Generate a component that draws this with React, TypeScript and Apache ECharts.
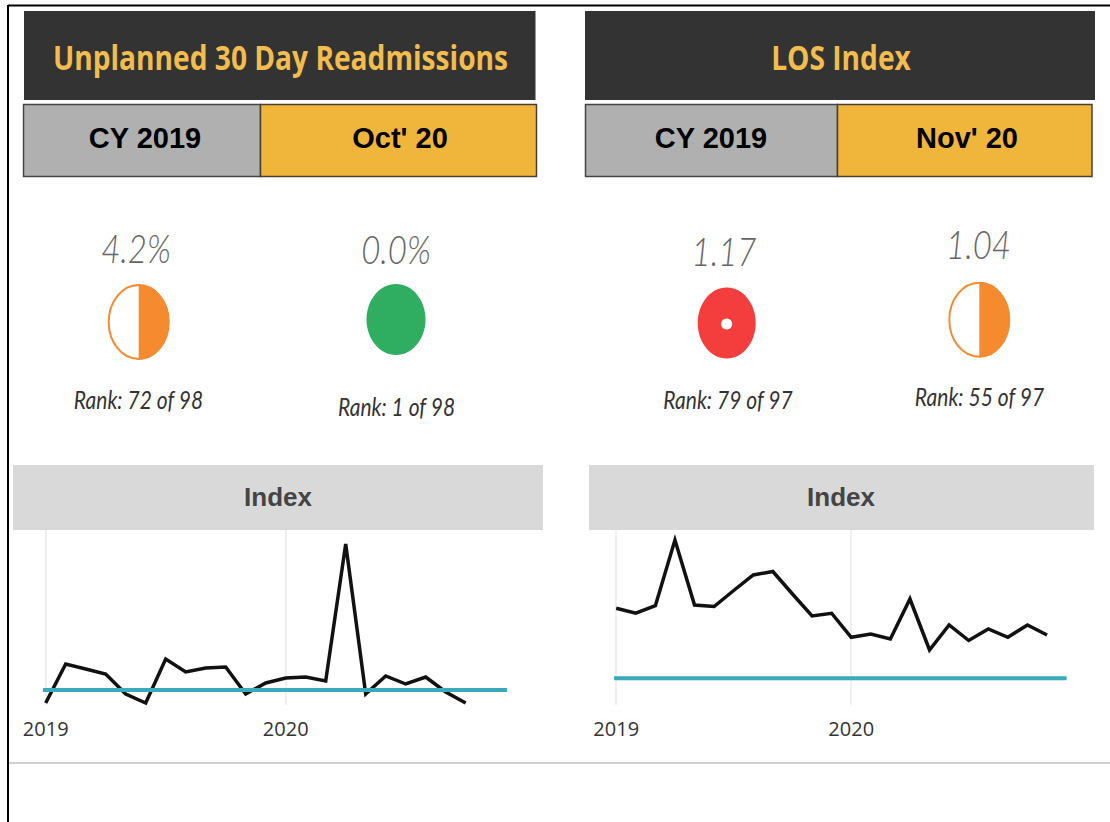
import React, { useEffect, useRef } from "react";
import * as echarts from "echarts";

const titles = ["Unplanned 30 Day Readmissions", "LOS Index"];
const periodsLeft = ["CY 2019", "Oct' 20"];
const periodsRight = ["CY 2019", "Nov' 20"];
const kpiValues = ["4.2%", "0.0%", "1.17", "1.04"];
const kpiRanks = ["Rank: 72 of 98", "Rank: 1 of 98", "Rank: 79 of 97", "Rank: 55 of 97"];
const panelLabel = "Index";
const yearLabels: Record<number, string> = { 0: "2019", 12: "2020" };

const readmissions = [0.02, 0.41, 0.36, 0.31, 0.11, 0.02, 0.46, 0.33, 0.37, 0.38, 0.11, 0.22, 0.27, 0.28, 0.24, 1.61, 0.11, 0.29, 0.21, 0.28, 0.13, 0.02];
const readmissionsTarget = 0.15;
const losIndex = [1.28, 1.26, 1.29, 1.553, 1.293, 1.287, 1.351, 1.413, 1.427, 1.337, 1.249, 1.26, 1.164, 1.177, 1.157, 1.317, 1.113, 1.213, 1.151, 1.197, 1.164, 1.213, 1.173];
const losTarget = 1.0;

const GOLD = "#F0B63C";
const ORANGE = "#F58A2E";

const centered = (text: string, x: number, y: number, font: any, extra: any = {}) => ({
  type: "text", x, y, silent: true, ...extra,
  style: { text, align: "center", verticalAlign: "middle", ...font },
});

const halfCircle = (x: number, y: number, rx: number, ry: number) => ({
  type: "group",
  children: [
    { type: "ellipse", shape: { cx: x, cy: y, rx, ry }, style: { fill: "#fff", stroke: ORANGE, lineWidth: 2 } },
    { type: "sector", x, y, scaleX: 1, scaleY: ry / rx, shape: { cx: 0, cy: 0, r: rx + 0.5, r0: 0, startAngle: -Math.PI / 2, endAngle: Math.PI / 2 }, style: { fill: ORANGE } },
  ],
});

const valueFont = { font: "italic 300 33px Lato, 'Open Sans', sans-serif", fill: "#666" };
const rankFont = { font: "italic 400 21px Lato, 'Open Sans', sans-serif", fill: "#333" };
const periodFont = { font: "bold 29px 'Liberation Sans', Arial, sans-serif", fill: "#000" };
const titleFont = { font: "bold 30px 'Open Sans', sans-serif", fill: "#F2BD4E" };
const indexFont = { font: "bold 26px 'Liberation Sans', Arial, sans-serif", fill: "#444" };
const valueScale = { scaleY: 1.22 };
const rankScale = { scaleY: 1.15 };

const graphic: any[] = [
  { type: "line", shape: { x1: 8, y1: 5.5, x2: 1110, y2: 5.5 }, style: { stroke: "#000", lineWidth: 2 } },
  { type: "line", shape: { x1: 8, y1: 5, x2: 8, y2: 822 }, style: { stroke: "#000", lineWidth: 2 } },
  { type: "line", shape: { x1: 9, y1: 763, x2: 1110, y2: 763 }, style: { stroke: "#D0D0D0", lineWidth: 2 } },

  { type: "rect", shape: { x: 24, y: 11, width: 511.5, height: 89 }, style: { fill: "#333333" } },
  { type: "rect", shape: { x: 585, y: 11, width: 510, height: 89 }, style: { fill: "#333333" } },
  centered(titles[0], 280.5, 57, titleFont, { scaleX: 0.938, scaleY: 1.12 }),
  centered(titles[1], 841, 57, titleFont, { scaleX: 0.938, scaleY: 1.12 }),

  { type: "rect", shape: { x: 23.5, y: 104.5, width: 237, height: 72 }, style: { fill: "#B0B0B0", stroke: "#444", lineWidth: 1.5 } },
  { type: "rect", shape: { x: 260.5, y: 104.5, width: 276, height: 72 }, style: { fill: GOLD, stroke: "#4A4030", lineWidth: 1.5 } },
  { type: "rect", shape: { x: 585.5, y: 104.5, width: 252, height: 72 }, style: { fill: "#B0B0B0", stroke: "#444", lineWidth: 1.5 } },
  { type: "rect", shape: { x: 837.5, y: 104.5, width: 254.5, height: 72 }, style: { fill: GOLD, stroke: "#4A4030", lineWidth: 1.5 } },
  centered(periodsLeft[0], 145, 138, periodFont),
  centered(periodsLeft[1], 400, 138, periodFont),
  centered(periodsRight[0], 711, 138, periodFont),
  centered(periodsRight[1], 967, 138, periodFont),

  centered(kpiValues[0], 136, 248, valueFont, valueScale),
  centered(kpiValues[1], 396, 249, valueFont, valueScale),
  centered(kpiValues[2], 724, 251, valueFont, valueScale),
  centered(kpiValues[3], 978.5, 244, valueFont, valueScale),

  halfCircle(138.7, 322, 30, 37),
  { type: "ellipse", shape: { cx: 396, cy: 319.5, rx: 29.5, ry: 35.5 }, style: { fill: "#2FAE62" } },
  { type: "ellipse", shape: { cx: 726.7, cy: 323, rx: 29, ry: 35.5 }, style: { fill: "#F43E3E" } },
  { type: "circle", shape: { cx: 726.7, cy: 324, r: 5.5 }, style: { fill: "#fff" } },
  halfCircle(979.3, 319.7, 30, 37),

  centered(kpiRanks[0], 138.5, 400, rankFont, rankScale),
  centered(kpiRanks[1], 396.5, 407, rankFont, rankScale),
  centered(kpiRanks[2], 728, 400, rankFont, rankScale),
  centered(kpiRanks[3], 979.5, 397, rankFont, rankScale),

  { type: "rect", shape: { x: 13, y: 465, width: 530, height: 65 }, style: { fill: "#D9D9D9" } },
  { type: "rect", shape: { x: 589, y: 465, width: 505, height: 65 }, style: { fill: "#D9D9D9" } },
  centered(panelLabel, 278, 497, indexFont),
  centered(panelLabel, 841, 497, indexFont),
];

const xAxis = (gridIndex: number) => ({
  type: "value", gridIndex, min: 0, max: 24, interval: 12,
  axisLine: { show: false },
  axisTick: { show: false },
  axisLabel: {
    margin: 13, fontSize: 20, color: "#333", fontFamily: "'Open Sans', sans-serif",
    formatter: (v: number) => yearLabels[v] ?? "",
  },
  splitLine: { show: true, showMaxLine: false, lineStyle: { color: "#EBEBEB", width: 1.5 } },
});

const yAxis = (gridIndex: number, min: number, max: number) => ({
  type: "value", gridIndex, min, max, show: false, splitLine: { show: false },
});

const lineSeries = (i: number, data: number[]) => ({
  type: "line", xAxisIndex: i, yAxisIndex: i, symbol: "none", z: 3, clip: false,
  lineStyle: { color: "#111", width: 3.5, join: "miter" },
  data: data.map((v, m) => [m, v]),
});

const targetSeries = (i: number, v: number, from: number, to: number) => ({
  type: "line", xAxisIndex: i, yAxisIndex: i, symbol: "none", z: 4, clip: false,
  lineStyle: { color: "#3AA9BC", width: 4 },
  data: [[from, v], [to, v]],
});

export default function App() {
  const ref = useRef<HTMLDivElement>(null);
  useEffect(() => {
    const chart = echarts.init(ref.current!, undefined, { renderer: "svg" });
    chart.setOption({
      animation: false,
      backgroundColor: "#fff",
      tooltip: { show: false },
      grid: [
        { left: 45.7, top: 530, width: 480, height: 175 },
        { left: 616.2, top: 530, width: 470, height: 175 },
      ],
      xAxis: [xAxis(0), xAxis(1)],
      yAxis: [yAxis(0, 0, 1.75), yAxis(1, 0.893, 1.593)],
      series: [
        lineSeries(0, readmissions),
        targetSeries(0, readmissionsTarget, -0.14, 23.07),
        lineSeries(1, losIndex),
        targetSeries(1, losTarget, -0.11, 23),
      ],
      graphic,
    });
    return () => chart.dispose();
  }, []);
  return <div ref={ref} style={{ position: "absolute", left: 0, top: 0, width: 1110, height: 822 }} />;
}
